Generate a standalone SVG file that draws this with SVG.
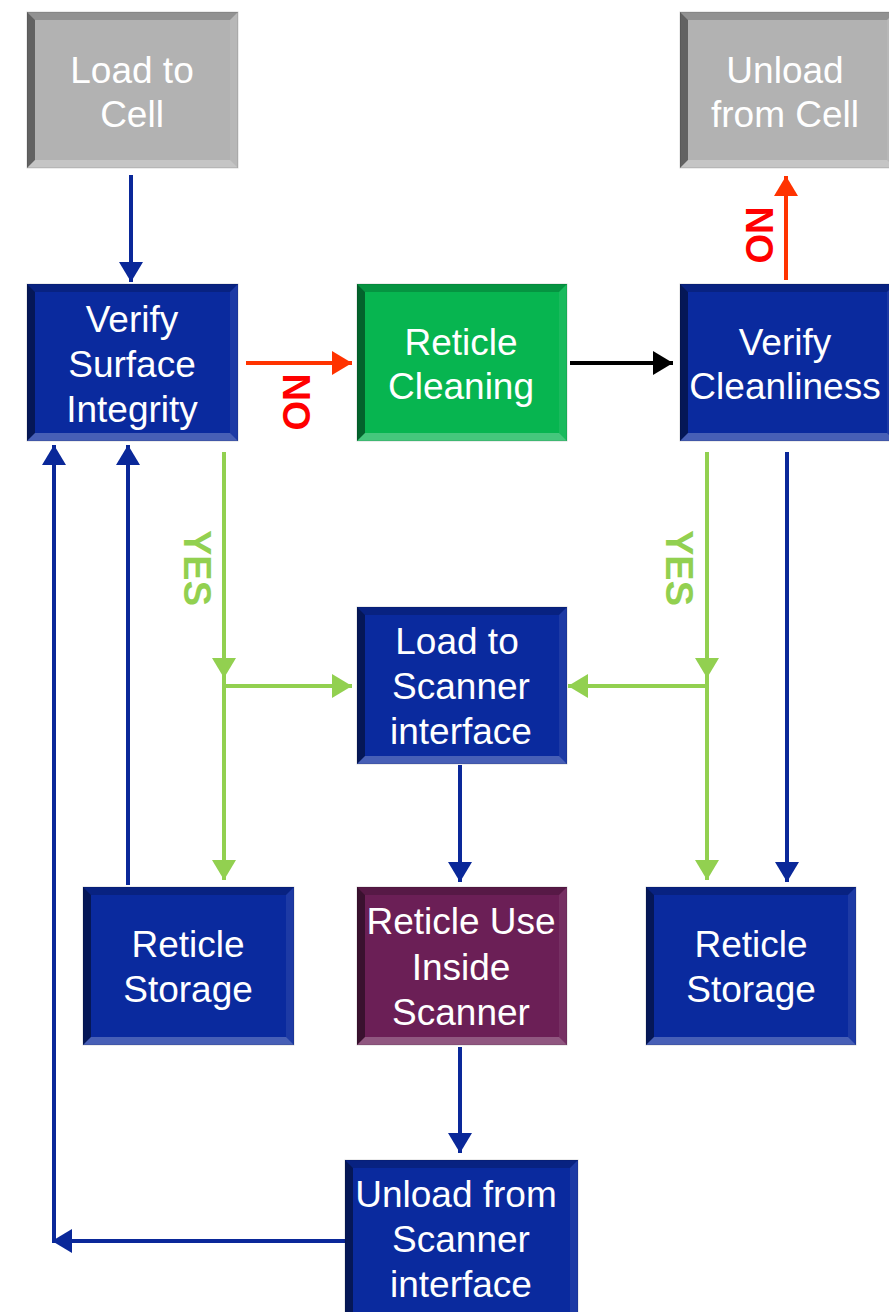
<svg xmlns="http://www.w3.org/2000/svg" width="889" height="1312" viewBox="0 0 889 1312">
<style>
.lbl{font-family:"Liberation Sans",Arial,sans-serif;font-size:37px;fill:#fff;text-anchor:middle}
.bl{fill:#000;fill-opacity:.45}
.bt{fill:#000;fill-opacity:.18}
.br{fill:#fff;fill-opacity:.08}
.bb{fill:#fff;fill-opacity:.25}
.blue{fill:#0a2a9e}
.gray{fill:#b2b2b2}
.green{fill:#07b550}
.purple{fill:#6b1f56}
.edge{fill:none;stroke:#000;stroke-opacity:.15;stroke-width:1}
.cb{fill:none;stroke:#0a2899;stroke-width:4}
.cg{fill:none;stroke:#92d050;stroke-width:4}
.cr{fill:none;stroke:#ff3300;stroke-width:4}
.ck{fill:none;stroke:#000;stroke-width:4}
.yn{font-family:"Liberation Sans",Arial,sans-serif;font-weight:bold;font-size:38px;text-anchor:middle}
</style>
<defs>
<marker id="ab" markerUnits="userSpaceOnUse" markerWidth="22" markerHeight="24" refX="20" refY="12" orient="auto"><path d="M0,0 L20,12 L0,24 Z" fill="#0a2899"/></marker>
<marker id="ag" markerUnits="userSpaceOnUse" markerWidth="22" markerHeight="24" refX="20" refY="12" orient="auto"><path d="M0,0 L20,12 L0,24 Z" fill="#92d050"/></marker>
<marker id="ar" markerUnits="userSpaceOnUse" markerWidth="22" markerHeight="24" refX="20" refY="12" orient="auto"><path d="M0,0 L20,12 L0,24 Z" fill="#ff3300"/></marker>
<marker id="ak" markerUnits="userSpaceOnUse" markerWidth="22" markerHeight="24" refX="20" refY="12" orient="auto"><path d="M0,0 L20,12 L0,24 Z" fill="#000"/></marker>
</defs>

<g id="connectors">
<path class="cb" d="M131,175 V282" marker-end="url(#ab)"/>
<path class="cr" d="M246,363 H352" marker-end="url(#ar)"/>
<path class="ck" d="M570,363 H673" marker-end="url(#ak)"/>
<path class="cr" d="M786,280 V176" marker-end="url(#ar)"/>
<path class="cg" d="M224,452 V678" marker-end="url(#ag)"/>
<path class="cg" d="M224,678 V880" marker-end="url(#ag)"/>
<path class="cg" d="M224,686 H352" marker-end="url(#ag)"/>
<path class="cg" d="M707,452 V678" marker-end="url(#ag)"/>
<path class="cg" d="M707,678 V880" marker-end="url(#ag)"/>
<path class="cg" d="M707,686 H568" marker-end="url(#ag)"/>
<path class="cb" d="M787,452 V882" marker-end="url(#ab)"/>
<path class="cb" d="M460,765 V882" marker-end="url(#ab)"/>
<path class="cb" d="M460,1047 V1153" marker-end="url(#ab)"/>
<path class="cb" d="M128,885 V445" marker-end="url(#ab)"/>
<path class="cb" d="M345,1241 H52" marker-end="url(#ab)"/>
<path class="cb" d="M54,1243 V445" marker-end="url(#ab)"/>
<text class="yn" fill="#ff0000" transform="translate(283,402) rotate(90)">NO</text>
<text class="yn" fill="#ff0000" transform="translate(746,235) rotate(90)">NO</text>
<text class="yn" fill="#92d050" transform="translate(184,568) rotate(90)">YES</text>
<text class="yn" fill="#92d050" transform="translate(666,568) rotate(90)">YES</text>
</g>

<g id="load-cell" transform="translate(27,12)">
<rect class="gray" width="211" height="156"/>
<path class="bl" d="M0,0 L8,8 V148 L0,156 Z"/>
<path class="bt" d="M0,0 H211 L203,8 H8 Z"/>
<path class="br" d="M211,0 V156 L203,148 V8 Z"/>
<path class="bb" d="M0,156 H211 L203,148 H8 Z"/>
<rect class="edge" width="211" height="156"/>
<text class="lbl" x="105" y="71">Load to</text>
<text class="lbl" x="105" y="115">Cell</text>
</g>

<g id="unload-cell" transform="translate(680,12)">
<rect class="gray" width="215" height="156"/>
<path class="bl" d="M0,0 L8,8 V148 L0,156 Z"/>
<path class="bt" d="M0,0 H215 L207,8 H8 Z"/>
<path class="br" d="M215,0 V156 L207,148 V8 Z"/>
<path class="bb" d="M0,156 H215 L207,148 H8 Z"/>
<rect class="edge" width="215" height="156"/>
<text class="lbl" x="105" y="71">Unload</text>
<text class="lbl" x="105" y="115">from Cell</text>
</g>

<g id="verify-surface" transform="translate(27,284)">
<rect class="blue" width="211" height="157"/>
<path class="bl" d="M0,0 L8,8 V149 L0,157 Z"/>
<path class="bt" d="M0,0 H211 L203,8 H8 Z"/>
<path class="br" d="M211,0 V157 L203,149 V8 Z"/>
<path class="bb" d="M0,157 H211 L203,149 H8 Z"/>
<rect class="edge" width="211" height="157"/>
<text class="lbl" x="105" y="48">Verify</text>
<text class="lbl" x="105" y="93">Surface</text>
<text class="lbl" x="105" y="138">Integrity</text>
</g>

<g id="reticle-cleaning" transform="translate(357,284)">
<rect class="green" width="210" height="157"/>
<path class="bl" d="M0,0 L8,8 V149 L0,157 Z"/>
<path class="bt" d="M0,0 H210 L202,8 H8 Z"/>
<path class="br" d="M210,0 V157 L202,149 V8 Z"/>
<path class="bb" d="M0,157 H210 L202,149 H8 Z"/>
<rect class="edge" width="210" height="157"/>
<text class="lbl" x="104" y="71">Reticle</text>
<text class="lbl" x="104" y="115">Cleaning</text>
</g>

<g id="verify-cleanliness" transform="translate(680,284)">
<rect class="blue" width="215" height="157"/>
<path class="bl" d="M0,0 L8,8 V149 L0,157 Z"/>
<path class="bt" d="M0,0 H215 L207,8 H8 Z"/>
<path class="br" d="M215,0 V157 L207,149 V8 Z"/>
<path class="bb" d="M0,157 H215 L207,149 H8 Z"/>
<rect class="edge" width="215" height="157"/>
<text class="lbl" x="105" y="71">Verify</text>
<text class="lbl" x="105" y="115">Cleanliness</text>
</g>

<g id="load-scanner" transform="translate(357,607)">
<rect class="blue" width="210" height="157"/>
<path class="bl" d="M0,0 L8,8 V149 L0,157 Z"/>
<path class="bt" d="M0,0 H210 L202,8 H8 Z"/>
<path class="br" d="M210,0 V157 L202,149 V8 Z"/>
<path class="bb" d="M0,157 H210 L202,149 H8 Z"/>
<rect class="edge" width="210" height="157"/>
<text class="lbl" x="100" y="47">Load to</text>
<text class="lbl" x="104" y="92">Scanner</text>
<text class="lbl" x="104" y="137">interface</text>
</g>

<g id="storage-left" transform="translate(83,887)">
<rect class="blue" width="211" height="158"/>
<path class="bl" d="M0,0 L8,8 V150 L0,158 Z"/>
<path class="bt" d="M0,0 H211 L203,8 H8 Z"/>
<path class="br" d="M211,0 V158 L203,150 V8 Z"/>
<path class="bb" d="M0,158 H211 L203,150 H8 Z"/>
<rect class="edge" width="211" height="158"/>
<text class="lbl" x="105" y="70">Reticle</text>
<text class="lbl" x="105" y="115">Storage</text>
</g>

<g id="reticle-use" transform="translate(357,887)">
<rect class="purple" width="210" height="158"/>
<path class="bl" d="M0,0 L8,8 V150 L0,158 Z"/>
<path class="bt" d="M0,0 H210 L202,8 H8 Z"/>
<path class="br" d="M210,0 V158 L202,150 V8 Z"/>
<path class="bb" d="M0,158 H210 L202,150 H8 Z"/>
<rect class="edge" width="210" height="158"/>
<text class="lbl" x="104" y="47">Reticle Use</text>
<text class="lbl" x="104" y="93">Inside</text>
<text class="lbl" x="104" y="138">Scanner</text>
</g>

<g id="storage-right" transform="translate(646,887)">
<rect class="blue" width="210" height="158"/>
<path class="bl" d="M0,0 L8,8 V150 L0,158 Z"/>
<path class="bt" d="M0,0 H210 L202,8 H8 Z"/>
<path class="br" d="M210,0 V158 L202,150 V8 Z"/>
<path class="bb" d="M0,158 H210 L202,150 H8 Z"/>
<rect class="edge" width="210" height="158"/>
<text class="lbl" x="105" y="70">Reticle</text>
<text class="lbl" x="105" y="115">Storage</text>
</g>

<g id="unload-scanner" transform="translate(345,1160)">
<rect class="blue" width="233" height="160"/>
<path class="bl" d="M0,0 L8,8 V152 L0,160 Z"/>
<path class="bt" d="M0,0 H233 L225,8 H8 Z"/>
<path class="br" d="M233,0 V160 L225,152 V8 Z"/>
<path class="bb" d="M0,160 H233 L225,152 H8 Z"/>
<rect class="edge" width="233" height="160"/>
<text class="lbl" x="111" y="47">Unload from</text>
<text class="lbl" x="116" y="92">Scanner</text>
<text class="lbl" x="116" y="137">interface</text>
</g>
</svg>
